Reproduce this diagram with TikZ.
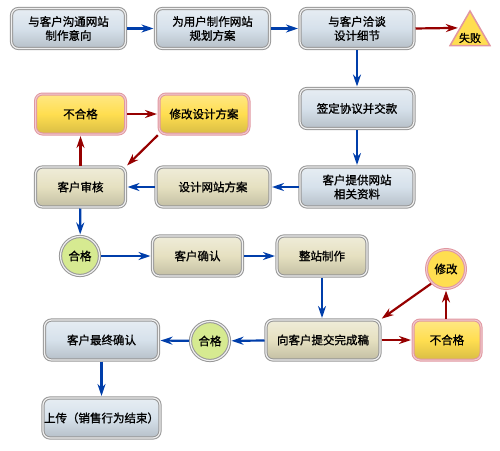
\documentclass[tikz,border=0pt]{standalone}
\usepackage{fontspec}
\newfontfamily\cjk[RawFeature={embolden=1.2}]{Noto Sans CJK SC}
\usetikzlibrary{arrows.meta,shapes.geometric}

\definecolor{boxblue}{RGB}{214,225,235}
\definecolor{boxsand}{RGB}{229,224,192}
\definecolor{boxyellow}{RGB}{255,222,80}
\definecolor{boxgreen}{RGB}{214,234,145}
\definecolor{framegray}{RGB}{150,150,150}
\definecolor{framepink}{RGB}{225,150,160}
\definecolor{lineblue}{RGB}{0,62,170}
\definecolor{linered}{RGB}{150,0,0}

\tikzset{
  box/.style={rectangle, rounded corners=7pt, inner sep=1pt, align=center,
    minimum height=40pt, font=\cjk\fontsize{11.5}{14}\selectfont},
  grayframe/.style={draw=framegray, line width=1pt, double=white!85!framegray, double distance=1.2pt},
  pinkframe/.style={draw=framepink, line width=1pt, double=framepink!50!white, double distance=1pt},
  bluebox/.style={box, grayframe, minimum width=114pt,
    top color=boxblue!60!white, bottom color=boxblue!85!black, middle color=boxblue},
  sandbox/.style={box, grayframe, minimum width=90pt,
    top color=boxsand!60!white, bottom color=boxsand!85!black, middle color=boxsand},
  badbox/.style={box, pinkframe, minimum width=90pt,
    top color=boxyellow!70!white, bottom color=boxyellow!85!black, middle color=boxyellow},
  okdot/.style={circle, grayframe, fill=boxgreen, minimum size=39pt, inner sep=0pt,
    font=\cjk\fontsize{11.5}{14}\selectfont},
  fixdot/.style={circle, pinkframe, fill=boxyellow, minimum size=39pt, inner sep=0pt,
    font=\cjk\fontsize{11.5}{14}\selectfont},
  failmark/.style={regular polygon, regular polygon sides=3, minimum size=46pt, inner sep=0pt,
    draw=framepink, line width=1.5pt, fill=boxyellow},
}

\begin{document}
\begin{tikzpicture}[x=1pt,y=-1pt,
  link/.style={-{Stealth[length=12pt,width=8pt]}, line width=2.2pt, shorten >=1.5pt, shorten <=1pt},
  go/.style={link, draw=lineblue},
  back/.style={link, draw=linered}]
\useasboundingbox (0,0) rectangle (500,450);

% top row
\node[bluebox] (talk) at (68.5,28.5) {与客户沟通网站\\制作意向};
\node[bluebox] (plan) at (212.5,28.5) {为用户制作网站\\规划方案};
\node[bluebox] (detail) at (357,28.5) {与客户洽谈\\设计细节};
\node[failmark, label={[font=\cjk\fontsize{11}{13}\selectfont, yshift=-4pt]center:失败}] (fail) at (470,34) {};

% contract and material
\node[bluebox] (sign) at (357,108.5) {签定协议并交款};
\node[bluebox] (data) at (357,187) {客户提供网站\\相关资料};

% design review
\node[sandbox, minimum width=114pt] (design) at (213,187) {设计网站方案};
\node[sandbox] (review) at (80.5,187) {客户审核};
\node[badbox] (reject) at (80.5,114) {不合格};
\node[badbox] (redo) at (204,114) {修改设计方案};
\node[okdot] (pass) at (80,256) {合格};

% build
\node[sandbox] (confirm) at (197.5,256) {客户确认};
\node[sandbox] (build) at (322,256) {整站制作};
\node[sandbox, minimum width=114pt] (submit) at (323,340) {向客户提交完成稿};
\node[badbox, minimum width=68pt] (fail2) at (447,340) {不合格};
\node[fixdot] (fix) at (446,269) {修改};
\node[okdot] (pass2) at (210,341) {合格};

% finish
\node[bluebox] (final) at (101.5,340) {客户最终确认};
\node[bluebox] (upload) at (101.5,418) {上传（销售行为结束）};

\draw[go] (talk) -- (plan);
\draw[go] (plan) -- (detail);
\draw[back] (detail.east) -- (fail.side 1);
\draw[go] (detail) -- (sign);
\draw[go] (sign) -- (data);
\draw[go] (data) -- (design);
\draw[go] (design) -- (review);
\draw[back] (review) -- (reject);
\draw[back] (reject) -- (redo);
\draw[back] (redo.south west) -- (review.north east);
\draw[go] (review) -- (pass);
\draw[go] (pass) -- (confirm);
\draw[go] (confirm) -- (build);
\draw[go] (build.south) -- (build.south |- submit.north);
\draw[back] (submit) -- (fail2);
\draw[back] (fail2.north -| fix) -- (fix);
\draw[back] (fix.225) -- (submit.north east);
\draw[go] (submit) -- (pass2);
\draw[go] (pass2) -- (final);
\draw[go] (final) -- (upload);

\end{tikzpicture}
\end{document}
